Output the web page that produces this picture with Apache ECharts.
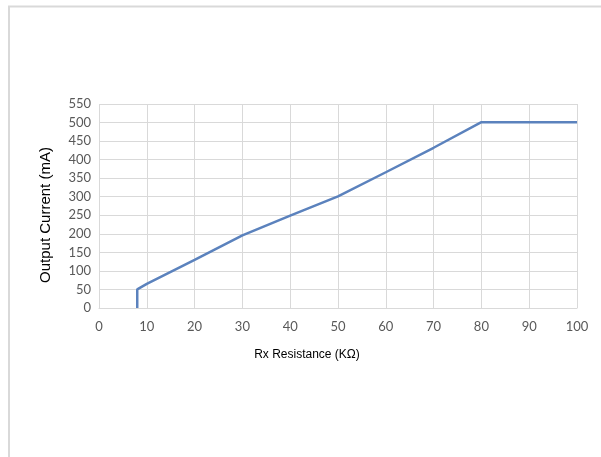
<!DOCTYPE html>
<html><head><meta charset="utf-8">
<script src="https://cdn.jsdelivr.net/npm/echarts@6/dist/echarts.min.js"></script>
<style>html,body{margin:0;padding:0;background:#fff}#c{width:601px;height:457px}</style>
</head><body><div id="c"></div>
<script>
const resistance = [8, 8, 10, 20, 30, 40, 50, 60, 70, 80, 100];
const current = [0, 50, 65, 130, 196, 249, 301, 366, 432, 501, 501];
const xTicks = [0, 10, 20, 30, 40, 50, 60, 70, 80, 90, 100];
const yTicks = [0, 50, 100, 150, 200, 250, 300, 350, 400, 450, 500, 550];
const xName = 'Rx Resistance (KΩ)';
const yName = 'Output Current (mA)';

const chart = echarts.init(document.getElementById('c'), null, {renderer: 'canvas'});
chart.setOption({
  animation: false,
  graphic: [{type: 'rect', shape: {x: 9, y: 6.5, width: 620, height: 480}, style: {fill: 'none', stroke: '#d9d9d9', lineWidth: 2}, silent: true}],
  grid: {left: 99, right: 24, top: 104, bottom: 149},
  xAxis: {
    type: 'value', min: xTicks[0], max: xTicks[xTicks.length-1], interval: 10,
    name: xName, nameLocation: 'middle', nameGap: 41,
    nameTextStyle: {fontFamily: 'Liberation Sans', fontSize: 12, color: '#000', padding: [0, 62, 0, 0]},
    axisLine: {show: true, lineStyle: {color: '#d9d9d9'}},
    axisTick: {show: false},
    axisLabel: {color: '#595959', fontFamily: 'Lato', fontSize: 13, margin: 12},
    splitLine: {show: true, lineStyle: {color: '#d9d9d9'}}
  },
  yAxis: {
    type: 'value', min: yTicks[0], max: yTicks[yTicks.length-1], interval: 50,
    name: yName, nameLocation: 'middle', nameGap: 46,
    nameTextStyle: {fontFamily: 'Liberation Sans', fontSize: 15, color: '#000', padding: [0, 18, 0, 0]},
    axisLine: {show: false},
    axisTick: {show: false},
    axisLabel: {color: '#595959', fontFamily: 'Lato', fontSize: 13, margin: 8},
    splitLine: {show: true, lineStyle: {color: '#d9d9d9'}}
  },
  series: [{
    type: 'line',
    data: resistance.map((r, i) => [r, current[i]]),
    showSymbol: false,
    lineStyle: {color: '#5b82bd', width: 2.5},
    itemStyle: {color: '#5b82bd'}
  }]
});
</script></body></html>
